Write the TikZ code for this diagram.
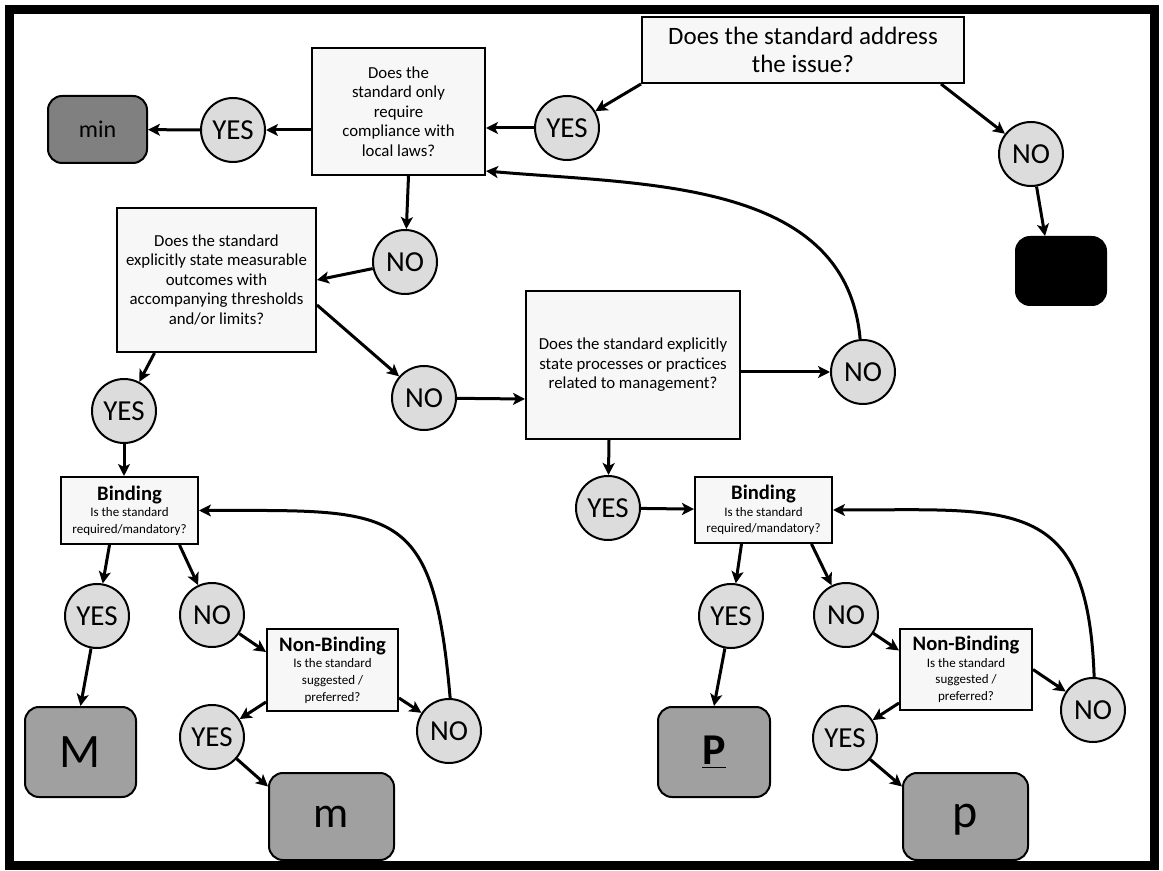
\documentclass[tikz,border=0pt]{standalone}
\usepackage{fontspec}
\setmainfont{Carlito}
\usetikzlibrary{arrows.meta}
\definecolor{boxgray}{HTML}{F7F7F7}
\definecolor{circgray}{HTML}{DCDCDC}
\definecolor{resgray}{HTML}{A0A0A0}
\definecolor{mingray}{HTML}{808080}

\begin{document}
\begin{tikzpicture}[x=0.5pt, y=-0.5pt,
    qbox/.style={draw, line width=1pt, fill=boxgray, align=center, inner sep=1pt,
        font=\fontsize{8.4}{9.75}\selectfont},
    bbox/.style={qbox, font=\fontsize{6.5}{8.3}\selectfont},
    ans/.style={draw, circle, line width=1pt, fill=circgray, minimum size=32pt,
        inner sep=0pt, font=\fontsize{14.5}{16}\selectfont},
    res/.style={draw, rounded corners=7pt, line width=1pt, fill=resgray},
    arr/.style={-{Stealth[length=6pt,width=6pt,inset=1.5pt]}, line width=1.5pt}]
    \useasboundingbox (0,0) rectangle (1163,871);
    \draw[line width=4.5pt] (9.5,9.5) rectangle (1154,865);
    % Questions
    \node[qbox, minimum width=161pt, minimum height=33pt, font=\fontsize{12.5}{14}\selectfont]
        (Q0) at (803,50) {Does the standard address\\the issue?};
    \node[qbox, minimum width=86.5pt, minimum height=63.5pt] (Q1) at (398.5,111.5)
        {Does the\\standard only\\require\\compliance with\\local laws?};
    \node[qbox, minimum width=99.5pt, minimum height=72pt] (Q2) at (216.5,280)
        {Does the standard\\explicitly state measurable\\outcomes with\\accompanying thresholds\\and/or limits?};
    \node[qbox, minimum width=107pt, minimum height=74pt] (Q3) at (633,365)
        {Does the standard explicitly\\state processes or practices\\related to management?};
    \node[bbox, minimum width=68.5pt, minimum height=33.5pt] (B1) at (129.5,510.5)
        {{\fontsize{10.3}{9.5}\selectfont\bfseries Binding}\\Is the standard\\required/mandatory?};
    \node[bbox, minimum width=68.5pt, minimum height=33pt] (B2) at (763.5,510)
        {{\fontsize{10.3}{9.5}\selectfont\bfseries Binding}\\Is the standard\\required/mandatory?};
    \node[bbox, minimum width=65.5pt, minimum height=41pt] (NB1) at (332.5,670)
        {{\fontsize{10.3}{9.5}\selectfont\bfseries Non-Binding}\\Is the standard\\suggested /\\preferred?};
    \node[bbox, minimum width=66pt, minimum height=40.5pt] (NB2) at (966,669.5)
        {{\fontsize{10.3}{9.5}\selectfont\bfseries Non-Binding}\\Is the standard\\suggested /\\preferred?};
    % Answers
    \node[ans] (Y0) at (567,128) {YES};
    \node[ans] (N0) at (1031,154) {NO};
    \node[ans] (Y1) at (233,130) {YES};
    \node[ans] (N1) at (405,262) {NO};
    \node[ans] (Y2) at (124,411) {YES};
    \node[ans] (N2) at (424,398) {NO};
    \node[ans] (N3) at (863,372) {NO};
    \node[ans] (Y3) at (608,508) {YES};
    \node[ans] (Y4) at (97,616) {YES};
    \node[ans] (N4) at (212,615) {NO};
    \node[ans] (N5) at (449,731) {NO};
    \node[ans] (Y5) at (212,737) {YES};
    \node[ans] (Y6) at (731,616) {YES};
    \node[ans] (N6) at (846,615) {NO};
    \node[ans] (N7) at (1093,710) {NO};
    \node[ans] (Y7) at (845,738) {YES};
    % Results
    \node[res, fill=mingray, minimum width=49.5pt, minimum height=33.5pt,
        font=\fontsize{12}{14}\selectfont] (Rmin) at (97.5,129.5) {min};
    \node[res, fill=black, minimum width=45pt, minimum height=34pt] (Rnone) at (1061,271) {};
    \node[res, minimum width=55.5pt, minimum height=45pt, font=\fontsize{24}{26}\selectfont]
        (RM) at (80.5,752) {M};
    \node[res, minimum width=62.5pt, minimum height=43.5pt, font=\fontsize{22}{24}\selectfont]
        (Rm) at (331.5,816.5) {m};
    \node[res, minimum width=56pt, minimum height=45pt, font=\fontsize{22}{24}\selectfont\bfseries]
        (RP) at (714,752) {\underline{P}};
    \node[res, minimum width=62.5pt, minimum height=43.5pt, font=\fontsize{24}{26}\selectfont]
        (Rp) at (965.5,816.5) {\raisebox{0pt}[\height][1pt]{p}};
    % Arrows
    \draw[arr] (Q0.south west) -- (Y0);
    \draw[arr] ([xshift=-12pt]Q0.south east) -- (N0);
    \draw[arr] (N0) -- ([xshift=-8pt]Rnone.north);
    \draw[arr] (Y0) -- (Y0 -| Q1.east);
    \draw[arr] (Q1.west |- Y1) -- (Y1);
    \draw[arr] (Y1) -- (Rmin);
    \draw[arr] ([xshift=5pt]Q1.south) -- (N1);
    \draw[arr] (N1) -- (Q2.east);
    \draw[arr] ([xshift=-31pt]Q2.south) -- (Y2);
    \draw[arr] ([yshift=-12.5pt]Q2.east) -- (N2);
    \draw[arr] (N2) -- ([yshift=-17pt]Q3.west);
    \draw[arr] (Q3.east |- N3) -- (N3);
    \draw[arr] (N3.95) to[out=95, in=-5] ([yshift=2.5pt]Q1.south east);
    \draw[arr] ([xshift=-12pt]Q3.south) -- (Y3);
    \draw[arr] (Y3) -- (B2);
    \draw[arr] (Y2) -- (Y2 |- B1.north);
    % left branch
    \draw[arr] ([xshift=-10pt]B1.south) -- (Y4);
    \draw[arr] ([xshift=25pt]B1.south) -- (N4);
    \draw[arr] (Y4) -- (RM.north);
    \draw[arr] (N4) -- ([yshift=9pt]NB1.west);
    \draw[arr] ([yshift=-16pt]NB1.west) -- (Y5);
    \draw[arr] (Y5) -- ([yshift=15pt]Rm.west);
    \draw[arr] ([yshift=-14pt]NB1.east) -- (N5);
    \draw[arr] (N5.88) to[out=95, in=0, looseness=1.6] (B1.east);
    % right branch
    \draw[arr] ([xshift=-11pt]B2.south) -- (Y6);
    \draw[arr] ([xshift=24pt]B2.south) -- (N6);
    \draw[arr] (Y6) -- (RP.north);
    \draw[arr] (N6) -- ([yshift=9.5pt]NB2.west);
    \draw[arr] (NB2.east) -- (N7);
    \draw[arr] ([yshift=-16.75pt]NB2.west) -- (Y7);
    \draw[arr] (Y7) -- ([yshift=15pt]Rp.west);
    \draw[arr] (N7.88) to[out=92, in=0, looseness=1.5] (B2.east);
\end{tikzpicture}
\end{document}
